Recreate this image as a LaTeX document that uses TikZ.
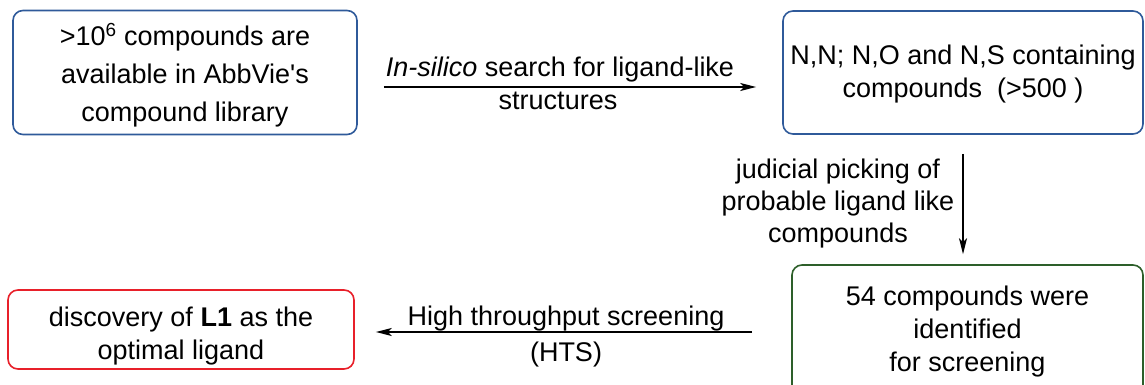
\documentclass[tikz,border=0pt]{standalone}
\usepackage{fontspec}
\setmainfont{Liberation Sans}
\usetikzlibrary{arrows.meta}
\definecolor{bbox}{HTML}{2F5A9A}
\definecolor{gbox}{HTML}{2D5F2A}
\definecolor{rbox}{HTML}{E8202A}
\begin{document}
\begin{tikzpicture}[x=1pt,y=1pt,
  box/.style={draw, line width=1.6pt, rounded corners=10pt, inner sep=0pt},
  boxtext/.style={align=center, font=\fontsize{27}{36}\selectfont, inner sep=0pt},
  lbl/.style={align=center, font=\fontsize{27}{33}\selectfont, inner sep=0pt},
  conn/.style={line width=1.4pt, -{Stealth[length=16pt,width=8pt,inset=4pt]}}]
\useasboundingbox (0,0) rectangle (1145,-385);
\begin{scope}
\clip (0,0) rectangle (1145,-385);
\node[box, draw=bbox, minimum width=344pt, minimum height=124pt] (b1) at (185,-72.5) {};
\node[boxtext, font=\fontsize{27}{38}\selectfont] (t1) at ([yshift=-3pt]b1.center)
  {>10\textsuperscript{6} compounds are\\available in AbbVie\textquotesingle s\\compound library};
\node[box, draw=bbox, minimum width=360pt, minimum height=123pt] (b2) at (963,-72.5) {};
\node[boxtext, font=\fontsize{27}{33}\selectfont] (t2) at ([yshift=-2pt]b2.center)
  {N,N; N,O and N,S containing\\compounds\ \ (>500\ )};
\node[box, draw=gbox, minimum width=351pt, minimum height=130pt] (b3) at (967.5,-330) {};
\node[boxtext, font=\fontsize{27}{33}\selectfont] (t3) at ([yshift=-2pt]b3.center)
  {54 compounds were\\identified\\for screening};
\node[box, draw=rbox, minimum width=346pt, minimum height=79pt] (b4) at (181,-329.5) {};
\node[boxtext, font=\fontsize{27}{33}\selectfont] (t4) at ([yshift=-7pt]b4.center)
  {discovery of \textbf{L1} as the\\optimal ligand};
\end{scope}
% connector 1
\coordinate (a1s) at ([xshift=26pt,yshift=-14.5pt]b1.east);
\coordinate (a1e) at ([xshift=-26pt,yshift=-14.5pt]b2.west);
\draw[conn] (a1s) -- (a1e);
\node[lbl, anchor=base] (l1a) at (560,-77) {\textit{In-silico} search for ligand-like};
\node[lbl, anchor=base] (l1b) at (558,-110) {structures};
% connector 2
\coordinate (a2s) at ([yshift=-19pt]b2.south);
\coordinate (a2e) at ([yshift=10pt]b3.north -| b2.south);
\draw[conn] (a2s) -- (a2e);
\node[lbl, font=\fontsize{27}{32}\selectfont] (l2) at (838,-204) {judicial picking of\\probable ligand like\\compounds};
% connector 3
\coordinate (a3s) at ([xshift=-39pt,yshift=-2pt]b3.west);
\coordinate (a3e) at ([xshift=21pt,yshift=-2.5pt]b4.east);
\draw[conn] (a3s) -- (a3e);
\node[lbl, anchor=base] (l3a) at (566,-325) {High throughput screening};
\node[lbl, anchor=base] (l3b) at (566,-361) {(HTS)};
\end{tikzpicture}
\end{document}
